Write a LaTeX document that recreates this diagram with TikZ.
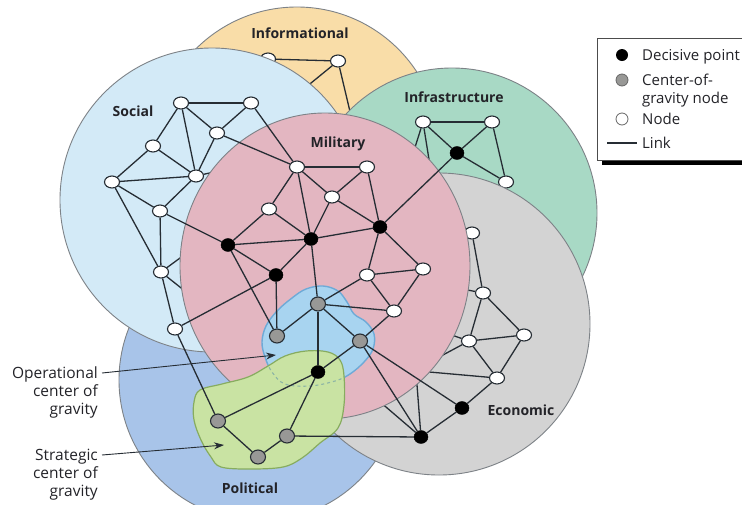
\documentclass[tikz,border=0pt]{standalone}
\usepackage{fontspec}
\setmainfont{Open Sans}
\usetikzlibrary{shapes.geometric,arrows.meta}
\definecolor{infoC}{RGB}{249,221,168}
\definecolor{socC}{RGB}{211,234,247}
\definecolor{infraC}{RGB}{168,217,197}
\definecolor{ecoC}{RGB}{211,211,211}
\definecolor{milC}{RGB}{227,182,193}
\definecolor{polC}{RGB}{168,196,233}
\definecolor{bblobC}{RGB}{168,212,240}
\definecolor{bblobE}{RGB}{110,170,215}
\definecolor{gblobC}{RGB}{201,227,163}
\definecolor{gblobE}{RGB}{135,172,95}
\definecolor{dashC}{RGB}{140,180,165}
\definecolor{edgeC}{RGB}{38,45,52}
\definecolor{ringC}{RGB}{125,130,135}
\definecolor{gnodeC}{RGB}{152,152,150}
\definecolor{labC}{RGB}{35,35,40}
\tikzset{
  ring/.style={draw=ringC, line width=0.9pt},
  edge/.style={draw=edgeC, line width=1.3pt},
  wn/.style={ellipse, draw=edgeC, fill=white, line width=1.1pt, minimum width=15pt, minimum height=12pt, inner sep=0pt},
  bn/.style={ellipse, draw=black, fill=black, minimum width=14pt, minimum height=13pt, inner sep=0pt},
  gn/.style={ellipse, draw=edgeC, fill=gnodeC, line width=1.1pt, minimum width=15pt, minimum height=14pt, inner sep=0pt},
  layerlab/.style={font=\bfseries\fontsize{14}{16}\selectfont, text=labC, anchor=base, inner sep=0pt},
  leglab/.style={font=\fontsize{15}{18}\selectfont, anchor=base west, text=labC, inner sep=0pt},
  sidelab/.style={font=\fontsize{15.5}{18}\selectfont, align=right, text=labC, anchor=north east, inner sep=0pt},
  leader/.style={draw=edgeC, line width=0.9pt, -{Stealth[length=10pt,width=7pt]}},
}
\begin{document}
\begin{tikzpicture}[x=1pt,y=-1pt]
\useasboundingbox (0,0) rectangle (742,504);
\fill[white] (0,0) rectangle (742,504);

% ---------- Informational layer
\filldraw[fill=infoC, ring] (297,150) circle[radius=143pt];
\node[wn] (N1) at (268,59) {};
\node[wn] (N2) at (338,61) {};
\coordinate (hN2a) at (300,92);
\coordinate (hN2b) at (352,120);
\draw[edge] (N1) -- (N2);
\draw[edge] (N2) -- (hN2a);
\draw[edge] (N2) -- (hN2b);

% ---------- Political layer
\filldraw[fill=polC, ring] (260,380) circle[radius=141pt];

% ---------- Social layer
\filldraw[fill=socC, ring] (212,200) circle[radius=152pt];
\node[wn] (S1) at (181,103) {};
\node[wn] (S2) at (251,103) {};
\node[wn] (S3) at (217,133) {};
\node[wn] (S4) at (153,146) {};
\node[wn] (S5) at (112,182) {};
\node[wn] (S6) at (196,176) {};
\node[wn] (S7) at (160,211) {};
\node[wn] (S8) at (161,272) {};
\node[wn] (S9) at (175,329) {};
\coordinate (hS8a) at (195,247);
\coordinate (hS8b) at (195,299);
\coordinate (hS6) at (232,168);
\draw[edge] (S8) -- (hS8a);
\draw[edge] (S8) -- (hS8b);
\draw[edge] (S6) -- (hS6);

% ---------- Infrastructure layer
\filldraw[fill=infraC, ring] (452,213) circle[radius=145pt];
\node[wn] (I1) at (423,122) {};
\node[wn] (I2) at (492,122) {};
\node[bn] (I3) at (457,153) {};
\node[wn] (I4) at (506,182) {};
\coordinate (hI1a) at (411,160);
\coordinate (hI1b) at (431,172);
\draw[edge] (I1) -- (I2);
\draw[edge] (I1) -- (I3);
\draw[edge] (I2) -- (I3);
\draw[edge] (I3) -- (I4);
\draw[edge] (I2) -- (I4);
\draw[edge] (I1) -- (hI1a);
\draw[edge] (I1) -- (hI1b);

% ---------- Economic layer
\filldraw[fill=ecoC, ring] (439,324) circle[radius=151pt];
\node[wn] (E1) at (472,233) {};
\node[wn] (E2) at (483,293) {};
\node[wn] (E3) at (524,335) {};
\node[wn] (E4) at (469,341) {};
\node[wn] (E5) at (497,378) {};
\node[bn] (D5) at (462,408) {};
\node[bn] (D6) at (421,437) {};
\coordinate (hE2) at (452,287);
\coordinate (hE4a) at (440,331);
\coordinate (hE4b) at (428,363);
\coordinate (hE5) at (418,371);
\coordinate (hD6a) at (416,372);
\coordinate (hD6b) at (372,395);
\draw[edge] (E1) -- (E2);
\draw[edge] (E2) -- (E3);
\draw[edge] (E2) -- (E4);
\draw[edge] (E3) -- (E4);
\draw[edge] (E3) -- (E5);
\draw[edge] (E4) -- (E5);
\draw[edge] (E5) -- (D5);
\draw[edge] (D5) -- (D6);
\draw[edge] (E2) -- (hE2);
\draw[edge] (E4) -- (hE4a);
\draw[edge] (E4) -- (hE4b);
\draw[edge] (E5) -- (hE5);
\draw[edge] (D6) -- (hD6a);
\draw[edge] (D6) -- (hD6b);

% ---------- Military layer
\filldraw[fill=milC, ring] (325,266) ellipse[x radius=145pt, y radius=153pt];
\node[wn] (M1) at (297,167) {};
\node[wn] (M2) at (332,197) {};
\node[wn] (M3) at (269,209) {};
\node[wn] (M4) at (367,167) {};
\node[wn] (M5) at (367,275) {};
\node[wn] (M6) at (423,269) {};
\node[wn] (M7) at (394,311) {};
\node[bn] (D1) at (228,245) {};
\node[bn] (D2) at (311,239) {};
\node[bn] (D3) at (380,227) {};
\node[bn] (D4) at (276,275) {};

% ---------- Centers of gravity
\filldraw[fill=bblobC, draw=bblobE, line width=1.4pt]
  plot[smooth cycle, tension=0.6] coordinates {(292,298) (306,289) (323,286) (338,291) (347,302) (354,314) (366,322) (374,334) (373,349) (364,362) (350,374) (335,381) (310,386) (285,384) (272,372) (265,357) (262,342) (266,326) (277,311)};
\filldraw[fill=gblobC, draw=gblobE, line width=1.2pt]
  plot[smooth cycle, tension=0.6] coordinates {(200,390) (222,384) (248,377) (268,366) (285,356) (306,351) (328,352) (340,360) (344,376) (344,405) (338,428) (320,443) (302,458) (283,467) (250,469) (221,467) (211,457) (201,440) (194,420) (194,402)};
\begin{scope}
  \clip plot[smooth cycle, tension=0.6] coordinates {(200,390) (222,384) (248,377) (268,366) (285,356) (306,351) (328,352) (340,360) (344,376) (344,405) (338,428) (320,443) (302,458) (283,467) (250,469) (221,467) (211,457) (201,440) (194,420) (194,402)};
  \draw[draw=dashC, line width=1.1pt, dash pattern=on 3pt off 3pt]
    plot[smooth cycle, tension=0.6] coordinates {(292,298) (306,289) (323,286) (338,291) (347,302) (354,314) (366,322) (374,334) (373,349) (364,362) (350,374) (335,381) (310,386) (285,384) (272,372) (265,357) (262,342) (266,326) (277,311)};
\end{scope}
\node[gn] (G1) at (318,304) {};
\node[gn] (G2) at (277,336) {};
\node[gn] (G3) at (360,341) {};
\node[bn] (D7) at (318,372) {};
\node[gn] (G4) at (218,421) {};
\node[gn] (G5) at (287,436) {};
\node[gn] (G6) at (258,457) {};

% ---------- visible links
\foreach \a/\b in {S1/S2, S1/S4, S1/S6, S1/S3, S2/S3, S3/S6, S4/S5, S4/S6, S5/S6, S5/S7, S5/S8, S6/S7, S7/S8, S8/S9,
  S2/M1, S3/M1, S7/D1, S9/D4, S9/G4,
  M1/M4, M1/M2, M1/M3, M1/D2, M2/M4, M2/D2, M2/D3, M4/D3, M3/D1, M3/D2, D1/D2, D1/D4, D1/G2, D2/D3, D2/D4, D2/G1,
  D3/M5, D3/M6, D3/I3, D4/G2, M5/M6, M5/M7, M5/G1, M6/M7, M7/G1, M7/G3,
  G1/G2, G1/G3, G1/D7, G3/D7, G3/D6, G3/D5, D7/G4, D7/G5, G4/G6, G6/G5, G5/D6}
  {\draw[edge] (\a) -- (\b);}

% ---------- layer labels
\node[layerlab] (tInfo) at (300,38) {Informational};
\node[layerlab] (tSoc) at (133,116) {Social};
\node[layerlab] (tInfra) at (454,102) {Infrastructure};
\node[layerlab] (tMil) at (338,147) {Military};
\node[layerlab] (tPol) at (250,493) {Political};
\node[layerlab] (tEco) at (521,415) {Economic};

% ---------- side labels and leaders
\node[sidelab] (opl) at (98,367) {Operational\\center of\\gravity};
\node[sidelab] (stl) at (98,449) {Strategic\\center of\\gravity};
\coordinate (opS) at (102,373);
\coordinate (opT) at (276,355);
\coordinate (stS) at (102,455);
\coordinate (stT) at (224,445);
\draw[leader] (opS) -- (opT);
\draw[leader] (stS) -- (stT);

% ---------- legend
\fill[black] (602,43) rectangle (760,165);
\filldraw[fill=white, draw=black!70, line width=0.8pt] (597,38) rectangle (755,160);
\node[circle, fill=black, minimum size=12pt, inner sep=0pt] (lg1) at (622,55) {};
\node[circle, fill=gnodeC, draw=black!60, line width=0.8pt, minimum size=12pt, inner sep=0pt] (lg2) at (622,80) {};
\node[circle, fill=white, draw=black!60, line width=0.8pt, minimum size=12pt, inner sep=0pt] (lg3) at (622,119) {};
\coordinate (lgA) at (607,143);
\coordinate (lgB) at (637,143);
\draw[edge] (lgA) -- (lgB);
\node[leglab] (lt1) at (642,60) {Decisive point};
\node[leglab] (lt2) at (642,85) {Center-of-};
\node[leglab] (lt3) at (642,103) {gravity node};
\node[leglab] (lt4) at (642,124) {Node};
\node[leglab] (lt5) at (642,148) {Link};
\end{tikzpicture}
\end{document}
